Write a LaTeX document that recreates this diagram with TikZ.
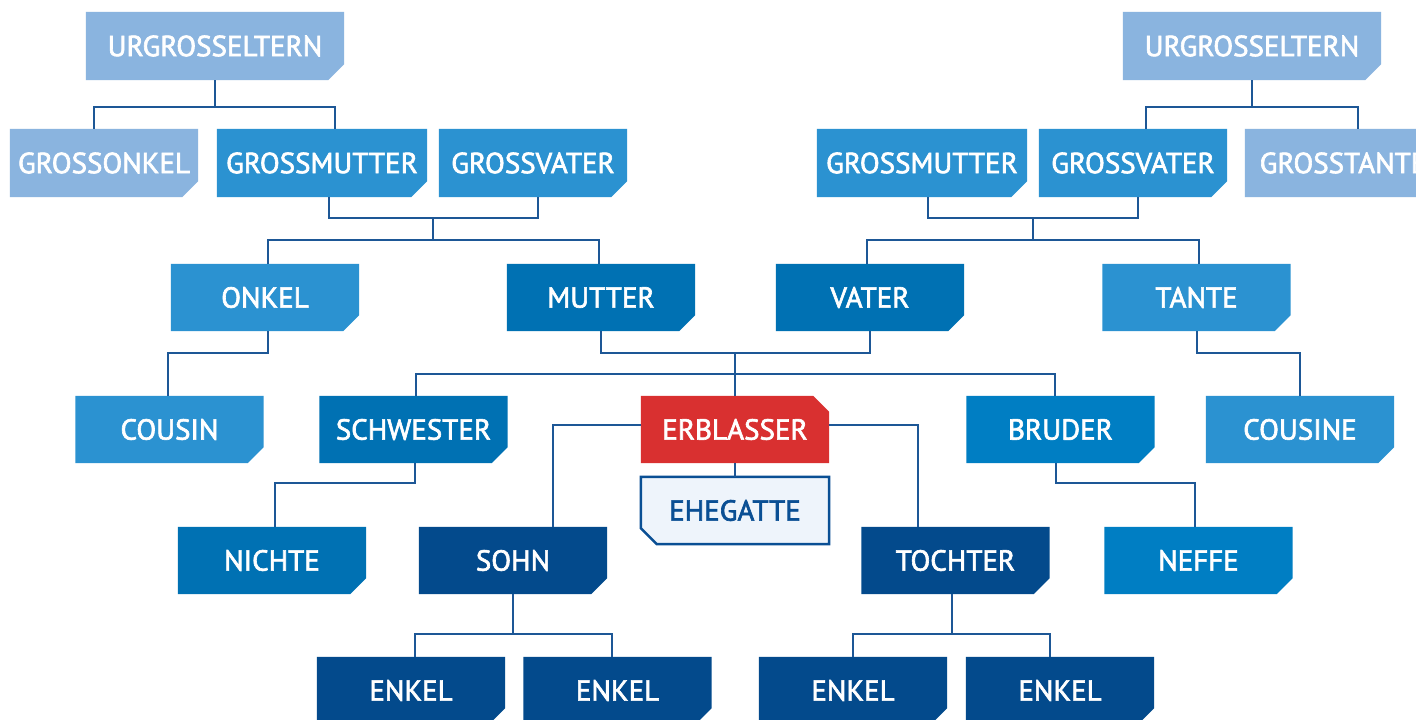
\documentclass[tikz,border=0pt]{standalone}
\usepackage{fontspec}
\setmainfont{PT Sans}[BoldFont={PT Sans}, BoldFeatures={FakeBold=2.2}]
\usetikzlibrary{backgrounds}
\definecolor{cLight}{HTML}{8AB4DF}
\definecolor{cMid}{HTML}{2B92D1}
\definecolor{cDeep}{HTML}{0071B3}
\definecolor{cBright}{HTML}{007EC3}
\definecolor{cDark}{HTML}{034A8C}
\definecolor{cRed}{HTML}{D93030}
\definecolor{cLine}{HTML}{1D5796}
\definecolor{cSpouse}{HTML}{EEF4FB}
\definecolor{cSpouseLine}{HTML}{0A4F94}
\tikzset{
  box/.style={minimum width=188pt, minimum height=67pt, inner sep=0pt, text=white, font=\fontsize{29}{31}\selectfont\bfseries},
  conn/.style={draw=cLine, line width=2pt},
}
\newcommand{\cutbox}[2]{\fill[#2] (#1.north west) -- (#1.north east) -- ([yshift=16pt]#1.south east) -- ([xshift=-16pt]#1.south east) -- (#1.south west) -- cycle;}
\begin{document}
\begin{tikzpicture}[x=1pt,y=-1pt]
\clip (0,0) rectangle (1416,720);
% row 1
\node[box, minimum width=258pt, minimum height=68pt] (UGL) at (215,46) {URGROSSELTERN};
\node[box, minimum width=258pt, minimum height=68pt] (UGR) at (1252,46) {URGROSSELTERN};
% row 2
\node[box, minimum height=68pt] (GOL) at (104,163) {GROSSONKEL};
\node[box, minimum width=210pt, minimum height=68pt] (GML) at (322,163) {GROSSMUTTER};
\node[box, minimum height=68pt] (GVL) at (533,163) {GROSSVATER};
\node[box, minimum width=210pt, minimum height=68pt] (GMR) at (922,163) {GROSSMUTTER};
\node[box, minimum height=68pt] (GVR) at (1133,163) {GROSSVATER};
\node[box, minimum width=196pt, minimum height=68pt] (GTR) at (1343,163) {GROSSTANTE};
% row 3
\node[box] (ONK) at (265,297.5) {ONKEL};
\node[box] (MUT) at (601,297.5) {MUTTER};
\node[box] (VAT) at (870,297.5) {VATER};
\node[box] (TAN) at (1196.5,297.5) {TANTE};
% row 4
\node[box] (COU) at (169.5,429.5) {COUSIN};
\node[box] (SCH) at (413.5,429.5) {SCHWESTER};
\node[box] (ERB) at (735,429.5) {ERBLASSER};
\node[box] (BRU) at (1060.5,429.5) {BRUDER};
\node[box] (COE) at (1300,429.5) {COUSINE};
\node[box, minimum width=188pt, minimum height=67pt, text=cSpouseLine] (EHE) at (735,510.5) {EHEGATTE};
% row 5
\node[box] (NIC) at (272,560.5) {NICHTE};
\node[box] (SOH) at (513,560.5) {SOHN};
\node[box] (TOC) at (955.5,560.5) {TOCHTER};
\node[box] (NEF) at (1198.5,560.5) {NEFFE};
% row 6
\node[box] (EN1) at (411,690.5) {ENKEL};
\node[box] (EN2) at (617.5,690.5) {ENKEL};
\node[box] (EN3) at (853,690.5) {ENKEL};
\node[box] (EN4) at (1060,690.5) {ENKEL};
% junctions
\coordinate (j1) at (215,107);
\coordinate (j2) at (1252,107);
\coordinate (j3) at (433,218);
\coordinate (j4) at (1033,218);
\coordinate (j5) at (735,353);
\coordinate (j6) at (735,374);
\begin{scope}[on background layer]
\fill[white] (0,0) rectangle (1416,720);
\cutbox{UGL}{cLight}
\cutbox{UGR}{cLight}
\cutbox{GOL}{cLight}
\cutbox{GTR}{cLight}
\foreach \n in {GML,GVL,GMR,GVR,ONK,TAN,COU,COE}{\cutbox{\n}{cMid}}
\foreach \n in {MUT,VAT,SCH,NIC}{\cutbox{\n}{cDeep}}
\foreach \n in {BRU,NEF}{\cutbox{\n}{cBright}}
\foreach \n in {SOH,TOC,EN1,EN2,EN3,EN4}{\cutbox{\n}{cDark}}
\fill[cRed] (ERB.south west) -- (ERB.north west) -- ([xshift=-16pt]ERB.north east) -- ([yshift=-16pt]ERB.north east) -- (ERB.south east) -- cycle;
\filldraw[fill=cSpouse, draw=cSpouseLine, line width=2.5pt] (EHE.north west) -- (EHE.north east) -- (EHE.south east) -- ([xshift=16pt]EHE.south west) -- ([yshift=16pt]EHE.south west) -- cycle;
% connectors
\draw[conn] (UGL.south) -- (j1);
\draw[conn] ([xshift=-10pt]GOL.north) |- (j1) -| ([xshift=13pt]GML.north);
\draw[conn] (UGR.south) -- (j2);
\draw[conn] ([xshift=13pt]GVR.north) |- (j2) -| ([xshift=15pt]GTR.north);
\draw[conn] ([xshift=7pt]GML.south) |- (j3) -| ([xshift=5pt]GVL.south);
\draw[conn] (j3) -- ++(0,21.5) coordinate (k3);
\draw[conn] ([xshift=3pt]ONK.north) |- (k3) -| ([xshift=-2pt]MUT.north);
\draw[conn] ([xshift=6pt]GMR.south) |- (j4) -| ([xshift=5pt]GVR.south);
\draw[conn] (j4) -- ++(0,21.5) coordinate (k4);
\draw[conn] ([xshift=-3pt]VAT.north) |- (k4) -| ([xshift=2.5pt]TAN.north);
\draw[conn] ([xshift=3pt]ONK.south) |- ++(-50,22) -| ([xshift=-1.5pt]COU.north);
\draw[conn] (MUT.south) |- (j5) -| (VAT.south);
\draw[conn] (j5) -- (ERB.north);
\draw[conn] ([xshift=2.5pt]SCH.north) |- (j6) -| ([xshift=-5.5pt]BRU.north);
\draw[conn] ([xshift=0.5pt]TAN.south) |- ++(50,22) -| (COE.north);
\draw[conn] ([yshift=4.5pt]ERB.west) -| ([xshift=40pt]SOH.north);
\draw[conn] ([yshift=4.5pt]ERB.east) -| ([xshift=-37.5pt]TOC.north);
\draw[conn] (ERB.south) -- (EHE.north);
\draw[conn] ([xshift=1.5pt]SCH.south) |- ++(-70,20) -| ([xshift=3pt]NIC.north);
\draw[conn] ([xshift=-4.5pt]BRU.south) |- ++(70,20) -| ([xshift=-3.5pt]NEF.north);
\draw[conn] (SOH.south) |- ++(-49,40) coordinate (s1) -| ([xshift=-5.5pt]EN2.north);
\draw[conn] ([xshift=4pt]EN1.north) |- (s1);
\draw[conn] ([xshift=-3.5pt]TOC.south) |- ++(-49,40) coordinate (t1) -| ([xshift=-10pt]EN4.north);
\draw[conn] (EN3.north) |- (t1);
\end{scope}
\end{tikzpicture}
\end{document}
